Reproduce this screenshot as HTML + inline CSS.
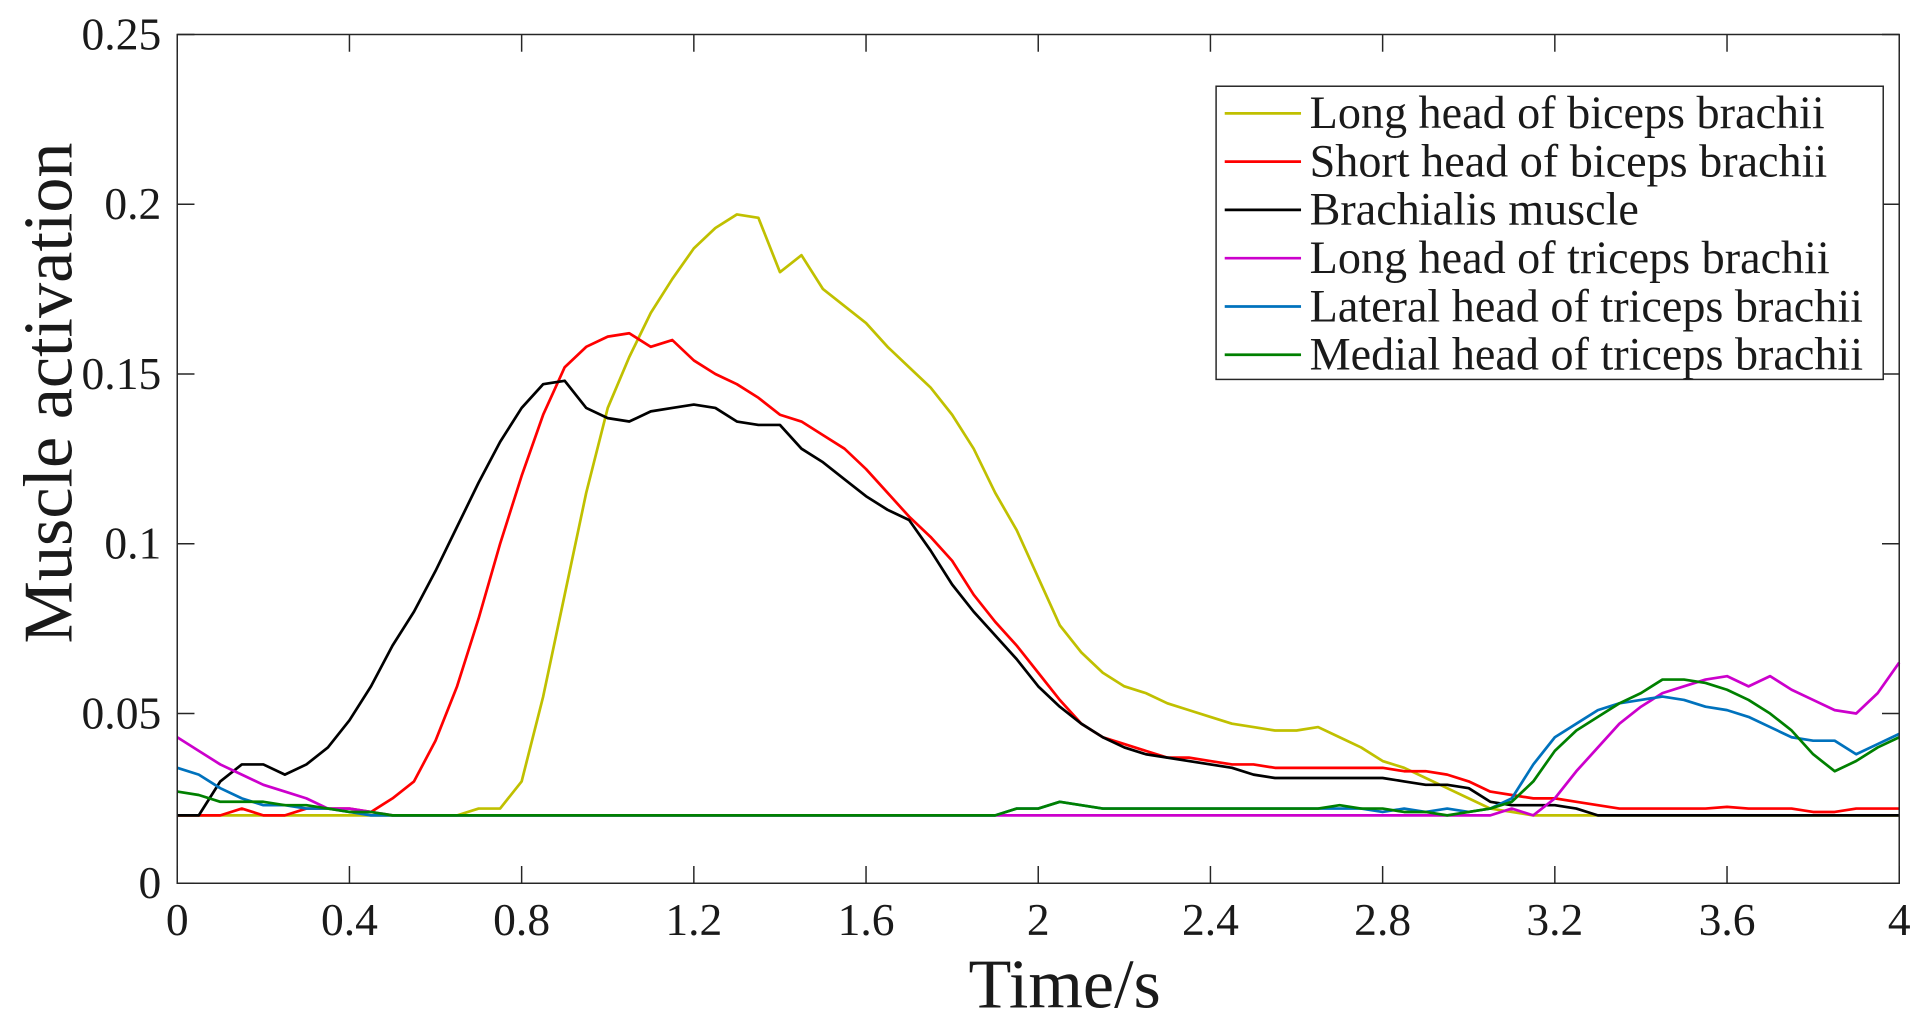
<!DOCTYPE html>
<html><head><meta charset="utf-8"><style>
html,body{margin:0;padding:0;background:#fff;}
svg{display:block;}
text{font-family:"Liberation Serif",serif;fill:#1a1a1a;}
</style></head><body>
<svg id="chart" width="1930" height="1020" viewBox="0 0 1568 828" preserveAspectRatio="none" xmlns="http://www.w3.org/2000/svg">
<g id="grid"></g>
<g id="series"></g>
<g id="axes"></g>
<g id="legend"></g>
</svg>
<script>
const xTicks=[0,0.4,0.8,1.2,1.6,2,2.4,2.8,3.2,3.6,4];
const xTickLabels=["0","0.4","0.8","1.2","1.6","2","2.4","2.8","3.2","3.6","4"];
const yTicks=[0,0.05,0.1,0.15,0.2,0.25];
const yTickLabels=["0","0.05","0.1","0.15","0.2","0.25"];
const seriesNames=["Long head of biceps brachii","Short head of biceps brachii","Brachialis muscle","Long head of triceps brachii","Lateral head of triceps brachii","Medial head of triceps brachii"];
const seriesColors=["#c0c000","#ff0000","#000000","#cc00cc","#0072bd","#008000"];
const timeStep=0.05;
const longBiceps=[0.02,0.02,0.02,0.02,0.02,0.02,0.02,0.02,0.02,0.02,0.02,0.02,0.02,0.02,
0.022,0.022,0.03,0.055,0.085,0.115,0.14,0.155,0.168,0.178,0.187,0.193,0.197,0.196,0.18,0.185,0.175,0.17,0.165,0.158,0.152,0.146,0.138,0.128,0.115,0.104,0.09,0.076,0.068,0.062,0.058,0.056,0.053,0.051,0.049,0.047,0.046,0.045,0.045,0.046,0.043,0.04,0.036,0.034,0.031,0.028,0.025,0.022,0.021,
0.02,0.02,0.02,0.02,0.02,0.02,0.02,0.02,0.02,0.02,0.02,0.02,0.02,0.02,0.02,0.02,0.02,0.02];
const shortBiceps=[0.02,0.02,0.02,0.022,0.02,0.02,0.022,0.022,0.022,0.021,0.025,0.03,0.042,0.058,0.078,0.1,0.12,0.138,0.152,0.158,0.161,0.162,0.158,0.16,0.154,0.15,0.147,0.143,0.138,0.136,0.132,0.128,0.122,0.115,0.108,0.102,0.095,0.085,0.077,0.07,0.062,0.054,0.047,0.043,0.041,0.039,0.037,0.037,0.036,0.035,0.035,0.034,0.034,0.034,0.034,0.034,0.034,0.033,0.033,0.032,0.03,0.027,0.026,0.025,0.025,0.024,0.023,0.022,0.022,0.022,0.022,0.022,0.0225,0.022,0.022,0.022,0.021,0.021,0.022,0.022,0.022];
const brachialis=[0.02,0.02,0.03,0.035,0.035,0.032,0.035,0.04,0.048,0.058,0.07,0.08,0.092,0.105,0.118,0.13,0.14,0.147,0.148,0.14,0.137,0.136,0.139,0.14,0.141,0.14,0.136,0.135,0.135,0.128,0.124,0.119,0.114,0.11,0.107,0.098,0.088,0.08,0.073,0.066,0.058,0.052,0.047,0.043,0.04,0.038,0.037,0.036,0.035,0.034,0.032,0.031,0.031,0.031,0.031,0.031,0.031,0.03,0.029,0.029,0.028,0.024,0.023,0.023,0.023,0.022,0.02,0.02,0.02,0.02,0.02,0.02,0.02,0.02,0.02,0.02,0.02,0.02,0.02,0.02,0.02];
const longTriceps=[0.043,0.039,0.035,0.032,0.029,0.027,0.025,0.022,0.022,0.021,0.02,0.02,0.02,0.02,0.02,0.02,0.02,0.02,0.02,0.02,0.02,0.02,0.02,0.02,0.02,0.02,0.02,0.02,0.02,0.02,0.02,0.02,0.02,0.02,0.02,0.02,0.02,0.02,0.02,0.02,0.02,0.02,0.02,0.02,0.02,0.02,0.02,0.02,0.02,0.02,0.02,0.02,0.02,0.02,0.02,0.02,0.02,0.02,0.02,0.02,0.02,0.02,0.022,0.02,0.025,0.033,0.04,0.047,0.052,0.056,0.058,0.06,0.061,0.058,0.061,0.057,0.054,0.051,0.05,0.056,0.065];
const lateralTriceps=[0.034,0.032,0.028,0.025,0.023,0.023,0.022,0.022,0.021,0.02,0.02,0.02,0.02,0.02,0.02,0.02,0.02,0.02,0.02,0.02,0.02,0.02,0.02,0.02,0.02,0.02,0.02,0.02,0.02,0.02,0.02,0.02,0.02,0.02,0.02,0.02,0.02,0.02,0.02,0.022,0.022,0.024,0.023,0.022,0.022,0.022,0.022,0.022,0.022,0.022,0.022,0.022,0.022,0.022,0.022,0.022,0.021,0.022,0.021,0.022,0.021,0.022,0.025,0.035,0.043,0.047,0.051,0.053,0.054,0.055,0.054,0.052,0.051,0.049,0.046,0.043,0.042,0.042,0.038,0.041,0.044];
const medialTriceps=[0.027,0.026,0.024,0.024,0.024,0.023,0.023,0.022,0.021,0.021,0.02,0.02,0.02,0.02,0.02,0.02,0.02,0.02,0.02,0.02,0.02,0.02,0.02,0.02,0.02,0.02,0.02,0.02,0.02,0.02,0.02,0.02,0.02,0.02,0.02,0.02,0.02,0.02,0.02,0.022,0.022,0.024,0.023,0.022,0.022,0.022,0.022,0.022,0.022,0.022,0.022,0.022,0.022,0.022,0.023,0.022,0.022,0.021,0.021,0.02,0.021,0.022,0.024,0.03,0.039,0.045,0.049,0.053,0.056,0.06,0.06,0.059,0.057,0.054,0.05,0.045,0.038,0.033,0.036,0.04,0.043];
const allSeries=[longBiceps,shortBiceps,brachialis,longTriceps,lateralTriceps,medialTriceps];

const NS="http://www.w3.org/2000/svg";
const L=144,R=1543,T=28,B=717;
const xs=v=>L+(v-0)/(4-0)*(R-L);
const ys=v=>B-(v-0)/(0.25-0)*(B-T);
function mk(tag,parent,attrs){const e=document.createElementNS(NS,tag);for(const k in attrs)e.setAttribute(k,attrs[k]);parent.appendChild(e);return e;}
const axes=document.getElementById('axes'),ser=document.getElementById('series'),leg=document.getElementById('legend');

allSeries.forEach((s,si)=>{
  const d=s.map((v,i)=>(i?'L':'M')+xs(i*timeStep).toFixed(2)+','+ys(v).toFixed(2)).join(' ');
  const p=mk('path',ser,{d:d,fill:'none',stroke:seriesColors[si],'stroke-width':2.2,'stroke-linejoin':'round'});
  
  
});

const box=mk('rect',axes,{x:L,y:T,width:R-L,height:B-T,fill:'none',stroke:'#262626','stroke-width':1.2});


xTicks.forEach((v,i)=>{
  const x=xs(v);
  mk('line',axes,{x1:x,y1:B,x2:x,y2:B-14,stroke:'#262626','stroke-width':1.2});
  mk('line',axes,{x1:x,y1:T,x2:x,y2:T+14,stroke:'#262626','stroke-width':1.2});
  const t=mk('text',axes,{x:x,y:B+42,'font-size':37,'text-anchor':'middle'});
  t.textContent=xTickLabels[i];
  
  
});
yTicks.forEach((v,i)=>{
  const y=ys(v);
  mk('line',axes,{x1:L,y1:y,x2:L+14,y2:y,stroke:'#262626','stroke-width':1.2});
  mk('line',axes,{x1:R,y1:y,x2:R-14,y2:y,stroke:'#262626','stroke-width':1.2});
  const t=mk('text',axes,{x:L-13,y:y+12,'font-size':37,'text-anchor':'end'});
  t.textContent=yTickLabels[i];
  
  
});
const xt=mk('text',axes,{x:865,y:818,'font-size':57,'text-anchor':'middle'});
xt.textContent='Time/s';


const yt=mk('text',axes,{x:0,y:0,'font-size':57,'text-anchor':'middle',transform:'translate(58,319) rotate(-90)'});
yt.textContent='Muscle activation';



const lb=mk('rect',leg,{x:988,y:70,width:542,height:238,fill:'#fff',stroke:'#262626','stroke-width':1.2});


seriesNames.forEach((n,i)=>{
  const y=92+i*39.2;
  const g=mk('g',leg,{});
  
  
  mk('line',g,{x1:995,y1:y,x2:1057,y2:y,stroke:seriesColors[i],'stroke-width':2.2});
  const t=mk('text',g,{x:1064,y:y+12,'font-size':37.5});
  t.textContent=n;
});
</script>
</body></html>
